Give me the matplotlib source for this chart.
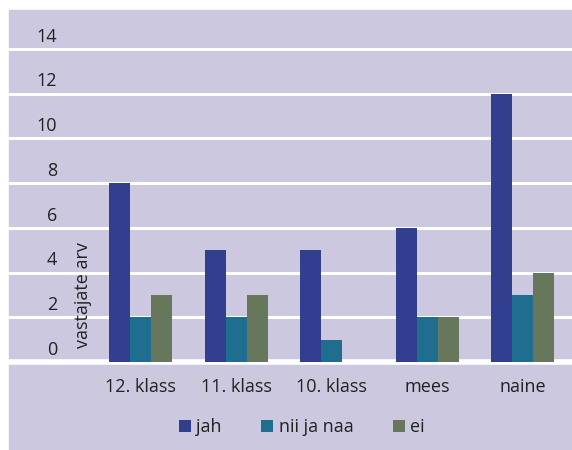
import matplotlib
matplotlib.use("Agg")
import matplotlib.pyplot as plt
from matplotlib.patches import Rectangle
import numpy as np

plt.rcParams['font.family'] = ['Open Sans', 'DejaVu Sans']

categories = ['12. klass', '11. klass', '10. klass', 'mees', 'naine']
series = ['jah', 'nii ja naa', 'ei']
jah = [8, 5, 5, 6, 12]
nii_ja_naa = [2, 2, 1, 2, 3]
ei = [3, 3, 0, 2, 4]
yticks = [0, 2, 4, 6, 8, 10, 12, 14]

colors = ['#323e8e', '#1f6d8f', '#67775b']
bg = '#ccc8e0'
W, H = 572, 450

fig = plt.figure(figsize=(W / 100, H / 100), dpi=100)

# axes spans the whole lavender width, y from value 0 (px 362) to 14 (px 49)
ax = fig.add_axes([9 / W, (H - 362) / H, 1 - 9 / W, 313 / H])
ax.set_facecolor('none')
ax.add_patch(Rectangle((9 / W, 0), 1 - 9 / W, 440 / H, transform=fig.transFigure,
                       color=bg, zorder=0, clip_on=False))
x0, step = 140.5, 95.5
ax.set_xlim((9 - x0) / step, (W - x0) / step)
ax.set_ylim(0, 14)
for s in ax.spines.values():
    s.set_visible(False)
ax.set_xticks([])
ax.set_yticks([])

for v in yticks:
    ax.axhline(v, color='white', lw=4 if v == 0 else 2.2, zorder=1,
               clip_on=False)
    ax.text((57 - x0) / step, v + 0.55, str(v), ha='right', va='center',
            fontsize=13, color='#222222')

x = np.arange(len(categories))
bw = 21 / step
for i, (name, vals) in enumerate(zip(series, [jah, nii_ja_naa, ei])):
    ax.bar(x + (i - 1) * bw, vals, width=bw, color=colors[i], label=name,
           zorder=2, linewidth=0)

for i, c in enumerate(categories):
    ax.text(i, -1.1, c, ha='center', va='center', fontsize=13,
            color='#222222', clip_on=False)

ax.text((83 - x0) / step, 3.0, 'vastajate arv', rotation=90, ha='center',
        va='center', fontsize=13, color='#222222')

handles, labels = ax.get_legend_handles_labels()
leg = fig.legend(handles, labels, loc='center',
                 bbox_to_anchor=(0.5 + 16 / W, (H - 427) / H),
                 ncol=3, frameon=False, fontsize=13, handlelength=0.65,
                 handleheight=0.65, handletextpad=0.3, columnspacing=2.2,
                 labelcolor='#222222')

fig.savefig('out.png', dpi=100)
